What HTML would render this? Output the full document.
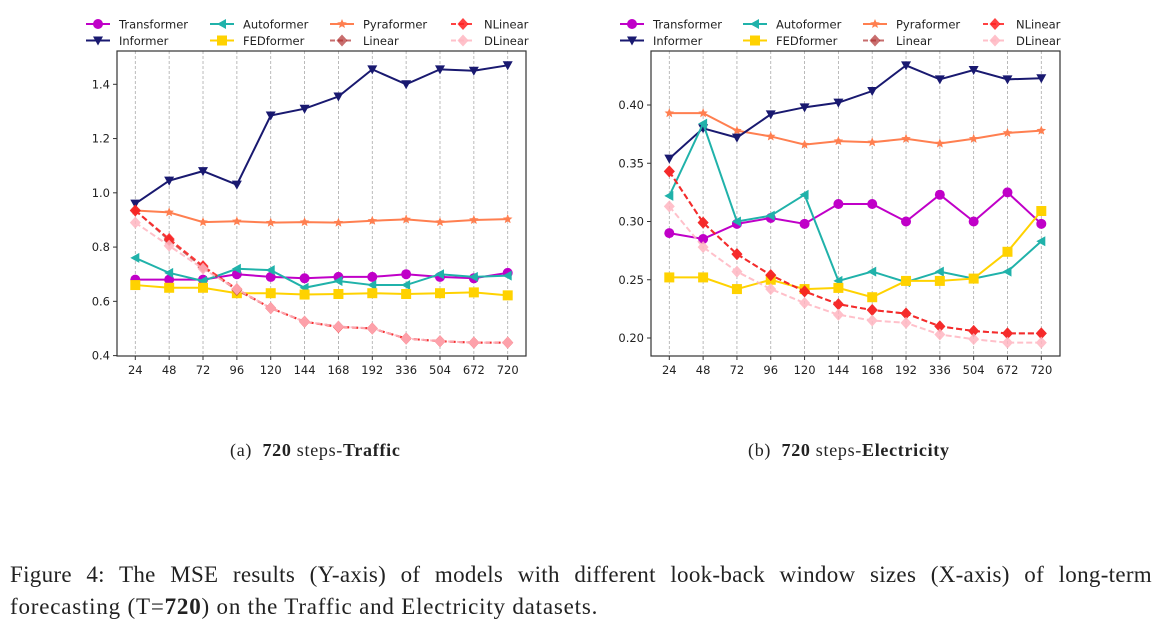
<!DOCTYPE html>
<html><head><meta charset="utf-8"><style>
body{margin:0;background:#fff;width:1161px;height:632px;overflow:hidden;position:relative}
svg{position:absolute;left:0;top:0}
.cap{position:absolute;font-family:"Liberation Serif",serif;font-size:18px;letter-spacing:0.7px;color:#222;white-space:nowrap}
.fl{position:absolute;left:10px;width:1142px;font-family:"Liberation Serif",serif;font-size:23px;letter-spacing:0.8px;color:#222;white-space:nowrap}
#fig1{top:562px;text-align:justify;text-align-last:justify;letter-spacing:0.3px}
#fig2{top:594px}
</style></head><body>
<svg id="chart" width="1161" height="632" xmlns="http://www.w3.org/2000/svg"></svg>
<div class="cap" style="left:230px;top:440px">(a)&nbsp; <b>720</b> steps-<b>Traffic</b></div>
<div class="cap" style="left:748px;top:440px">(b)&nbsp; <b>720</b> steps-<b>Electricity</b></div>
<div id="fig1" class="fl">Figure 4: The MSE results (Y-axis) of models with different look-back window sizes (X-axis) of long-term</div>
<div id="fig2" class="fl">forecasting (T=<b>720</b>) on the Traffic and Electricity datasets.</div>
<script>
const categories=["24","48","72","96","120","144","168","192","336","504","672","720"];
const trafficTransformer=[0.68,0.68,0.68,0.70,0.69,0.685,0.69,0.69,0.70,0.69,0.685,0.705];
const trafficInformer=[0.96,1.045,1.08,1.03,1.285,1.31,1.355,1.455,1.40,1.455,1.45,1.47];
const trafficAutoformer=[0.76,0.705,0.675,0.72,0.715,0.65,0.675,0.66,0.66,0.70,0.69,0.695];
const trafficFEDformer=[0.66,0.65,0.65,0.63,0.63,0.625,0.627,0.63,0.627,0.63,0.633,0.622];
const trafficPyraformer=[0.935,0.928,0.892,0.895,0.89,0.892,0.89,0.897,0.902,0.892,0.9,0.903];
const trafficNLinear=[0.935,0.83,0.73,0.645,0.575,0.525,0.505,0.5,0.463,0.453,0.448,0.448];
const trafficLinear=[0.935,0.825,0.725,0.642,0.575,0.525,0.507,0.5,0.463,0.453,0.448,0.448];
const trafficDLinear=[0.89,0.805,0.72,0.645,0.575,0.525,0.507,0.5,0.463,0.453,0.448,0.448];
const elecTransformer=[.290,.285,.298,.303,.298,.315,.315,.300,.323,.300,.325,.298];
const elecInformer=[.354,.380,.372,.392,.398,.402,.412,.434,.422,.430,.422,.423];
const elecAutoformer=[.322,.384,.300,.305,.323,.249,.257,.248,.257,.251,.257,.283];
const elecFEDformer=[.252,.252,.242,.250,.242,.243,.235,.249,.249,.251,.274,.309];
const elecPyraformer=[.393,.393,.378,.373,.366,.369,.368,.371,.367,.371,.376,.378];
const elecNLinear=[.343,.299,.272,.254,.240,.229,.224,.221,.210,.206,.204,.204];
const elecLinear=[.343,.299,.272,.254,.240,.229,.224,.221,.210,.206,.204,.204];
const elecDLinear=[.313,.278,.257,.242,.230,.220,.215,.213,.203,.199,.196,.196];
const trafficTicks=[0.4,0.6,0.8,1.0,1.2,1.4];
const elecTicks=[0.20,0.25,0.30,0.35,0.40];

const NS="http://www.w3.org/2000/svg";
const svg=document.getElementById('chart');
function el(tag,attrs,parent){const e=document.createElementNS(NS,tag);for(const k in attrs)e.setAttribute(k,attrs[k]);(parent||svg).appendChild(e);return e;}
const styles={
Transformer:{c:"#c000c8",m:"circle",dash:null,op:1},
Informer:{c:"#191970",m:"tridown",dash:null,op:1},
Autoformer:{c:"#20b2aa",m:"trileft",dash:null,op:1},
FEDformer:{c:"#ffd200",m:"square",dash:null,op:1},
Pyraformer:{c:"#ff7f50",m:"star",dash:null,op:1},
NLinear:{c:"#ff2020",m:"diamond",dash:"6,3",op:0.85},
Linear:{c:"#b03030",m:"diamond",dash:"6,3",op:0.7},
DLinear:{c:"#ffb6c1",m:"diamond",dash:"6,3",op:0.85}};
function marker(g,type,x,y,c,s){
 s=s||5;
 if(type==="circle")return el('circle',{cx:x,cy:y,r:s,fill:c},g);
 let pts;
 if(type==="tridown")pts=[[x-s,y-s*0.8],[x+s,y-s*0.8],[x,y+s]];
 else if(type==="trileft")pts=[[x-s,y],[x+s*0.8,y-s],[x+s*0.8,y+s]];
 else if(type==="square")pts=[[x-s,y-s],[x+s,y-s],[x+s,y+s],[x-s,y+s]];
 else if(type==="diamond")pts=[[x,y-s*1.2],[x+s*1.1,y],[x,y+s*1.2],[x-s*1.1,y]];
 else if(type==="star"){pts=[];for(let i=0;i<10;i++){const r=i%2?s*0.45:s;const a=-Math.PI/2+i*Math.PI/5;pts.push([x+r*Math.cos(a),y+r*Math.sin(a)]);}}
 return el('polygon',{points:pts.map(p=>p.join(',')).join(' '),fill:c},g);
}
function drawChart(cfg){
 const {name,L,R,T,B,x0,x1,yTop,vTop,yBot,vBot,ticks,fmt,data}=cfg;
 const g=el('g',{});
 
 
 const xs=i=>x0+(x1-x0)*i/(categories.length-1);
 const ys=v=>yBot+(yTop-yBot)*(v-vBot)/(vTop-vBot);
 categories.forEach((c,i)=>{
  const gl=el('line',{x1:xs(i),x2:xs(i),y1:T,y2:B,stroke:"#aaa","stroke-width":0.8,"stroke-dasharray":"3,2"},g);
  
  
  el('line',{x1:xs(i),x2:xs(i),y1:B,y2:B+4,stroke:"#333"},g);
  const t=el('text',{x:xs(i),y:B+18,"text-anchor":"middle","font-size":11.5,"font-family":"DejaVu Sans, sans-serif",fill:"#222"},g);
  t.textContent=c;
  
  
 });
 ticks.forEach(v=>{
  el('line',{x1:L-4,x2:L,y1:ys(v),y2:ys(v),stroke:"#333"},g);
  const t=el('text',{x:L-7,y:ys(v)+4,"text-anchor":"end","font-size":11.5,"font-family":"DejaVu Sans, sans-serif",fill:"#222"},g);
  t.textContent=fmt(v);
  
  
 });
 const order=["Pyraformer","Informer","Transformer","Autoformer","FEDformer","Linear","NLinear","DLinear"];
 order.forEach(n=>{
  const st=styles[n],vals=data[n];
  const sg=el('g',{opacity:st.op},g);
  
  
  const a={points:vals.map((v,i)=>xs(i)+','+ys(v)).join(' '),fill:"none",stroke:st.c,"stroke-width":2};
  if(st.dash)a["stroke-dasharray"]=st.dash;
  el('polyline',a,sg);
  vals.forEach((v,i)=>{const m=marker(sg,st.m,xs(i),ys(v),st.c);});
 });
 const fr=el('rect',{x:L,y:T,width:R-L,height:B-T,fill:"none",stroke:"#333","stroke-width":1.2},g);
 
 
 const lg=el('g',{},g);
 
 
 const rows=[["Transformer","Autoformer","Pyraformer","NLinear"],["Informer","FEDformer","Linear","DLinear"]];
 rows.forEach((row,ri)=>row.forEach((n,ci)=>{
  const st=styles[n];const lx=cfg.legX[ci],ly=24+ri*16.5;
  const e=el('g',{},lg);
  
  
  const la={x1:lx,x2:lx+24,y1:ly,y2:ly,stroke:st.c,"stroke-width":2,opacity:st.op};
  if(st.dash)la["stroke-dasharray"]="5,3";
  el('line',la,e);
  const mk=marker(e,st.m,lx+12,ly,st.c,5);mk.setAttribute('opacity',st.op);
  const t=el('text',{x:lx+33,y:ly+4.5,"font-size":11.5,"font-family":"DejaVu Sans, sans-serif",fill:"#222"},e);
  t.textContent=n;
 }));
}
drawChart({name:"traffic-chart",L:117,R:526,T:51,B:356,x0:135.3,x1:507.7,yTop:84.3,vTop:1.4,yBot:355.6,vBot:0.4,ticks:trafficTicks,fmt:v=>v.toFixed(1),legX:[86,210,330,451],
 data:{Transformer:trafficTransformer,Informer:trafficInformer,Autoformer:trafficAutoformer,FEDformer:trafficFEDformer,Pyraformer:trafficPyraformer,NLinear:trafficNLinear,Linear:trafficLinear,DLinear:trafficDLinear}});
drawChart({name:"electricity-chart",L:651,R:1060,T:51,B:356,x0:669.3,x1:1041.3,yTop:105,vTop:0.40,yBot:338,vBot:0.20,ticks:elecTicks,fmt:v=>v.toFixed(2),legX:[620,743,863,983],
 data:{Transformer:elecTransformer,Informer:elecInformer,Autoformer:elecAutoformer,FEDformer:elecFEDformer,Pyraformer:elecPyraformer,NLinear:elecNLinear,Linear:elecLinear,DLinear:elecDLinear}});
</script>
</body></html>
